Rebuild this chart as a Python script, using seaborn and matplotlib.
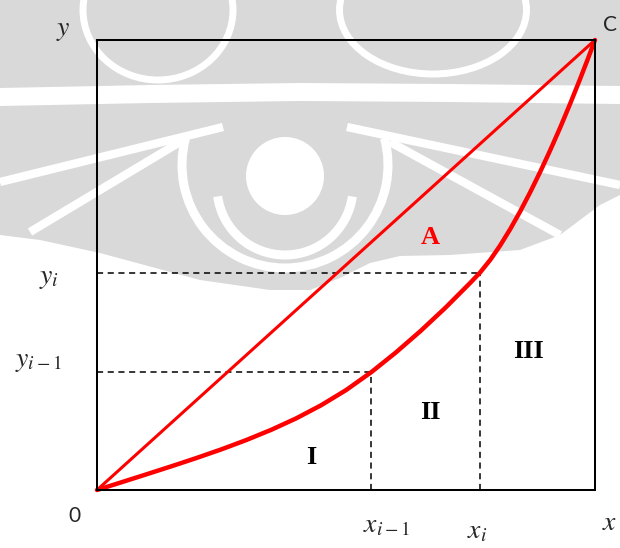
import numpy as np
import pandas as pd
import matplotlib
matplotlib.use("Agg")
import matplotlib.pyplot as plt
from matplotlib.patches import Polygon, Circle, Arc, Ellipse
import seaborn as sns

# Lorenz-type curve (cumulative share x -> cumulative share y)
curve_x = [0.0, 0.05, 0.10, 0.15, 0.20, 0.25, 0.30, 0.35, 0.40, 0.45, 0.50,
           0.551, 0.60, 0.65, 0.70, 0.75, 0.769, 0.79, 0.81, 0.83, 0.85,
           0.87, 0.89, 0.91, 0.93, 0.95, 0.97, 0.985, 1.0]
curve_y = [0.0, 0.0175, 0.0351, 0.0529, 0.0712, 0.0904, 0.1111, 0.1338, 0.1592,
           0.1883, 0.2219, 0.262, 0.3055, 0.3536, 0.4054, 0.4609, 0.483, 0.5119,
           0.5442, 0.5802, 0.6196, 0.6620, 0.7071, 0.7549, 0.8052, 0.8581,
           0.9132, 0.9561, 1.0]

# line of equality
equal_x = [0.0, 1.0]
equal_y = [0.0, 1.0]

# marked points on the curve: (x_{i-1}, y_{i-1}) and (x_i, y_i)
mark_x = [0.551, 0.769]
mark_y = [0.262, 0.483]
mark_xlabels = [r"$x_{i-1}$", r"$x_i$"]
mark_ylabels = [r"$y_{i-1}$", r"$y_i$"]

region_labels = ["I", "II", "III"]
area_label = "A"

sns.set_style("white")
plt.rcParams["mathtext.fontset"] = "stix"
plt.rcParams["font.family"] = ["Lato", "DejaVu Sans"]

fig = plt.figure(figsize=(6.2, 5.48), dpi=100)

# ---- faint watermark emblem behind the diagram (pixel coordinates) ----
bg = fig.add_axes([0, 0, 1, 1], zorder=0)
bg.set_xlim(0, 620)
bg.set_ylim(548, 0)
bg.axis("off")
gray = "#d9d9d9"
bg.add_patch(Polygon([(0, 0), (620, 0), (620, 195), (600, 205), (560, 235),
                      (520, 250), (450, 255), (400, 256), (370, 263), (340, 278),
                      (310, 290), (270, 290), (200, 280), (100, 253), (40, 240),
                      (0, 235)], closed=True, fc=gray, ec="none"))
# horizontal band
bg.add_patch(Polygon([(0, 88), (150, 85), (300, 83), (450, 84), (620, 86),
                      (620, 104), (450, 102), (300, 101), (150, 103), (0, 106)],
                     closed=True, fc="white", ec="none"))
# brow rings
bg.add_patch(Ellipse((158, 10), 150, 140, fc="none", ec="white", lw=5))
bg.add_patch(Ellipse((433, 10), 187, 128, fc="none", ec="white", lw=5))
# central disc and arcs
bg.add_patch(Circle((285, 176), 39, fc="white", ec="none"))
bg.add_patch(Arc((285, 187), 136, 136, theta1=8, theta2=172, ec="white", lw=6.5))
bg.add_patch(Arc((285, 165), 206, 206, theta1=-15, theta2=195, ec="white", lw=6.5))
# radiating stripes
for (x0, y0), (x1, y1) in [((223, 127), (0, 182)), ((180, 142), (30, 232)),
                           ((347, 127), (620, 185)), ((390, 142), (560, 235))]:
    bg.plot([x0, x1], [y0, y1], color="white", lw=6, solid_capstyle="butt")

# ---- main diagram ----
ax = fig.add_axes([97 / 620, 1 - 490 / 548, 498 / 620, 450 / 548], zorder=1)
ax.patch.set_alpha(0)

curve_df = pd.DataFrame({"x": curve_x, "y": curve_y})
equal_df = pd.DataFrame({"x": equal_x, "y": equal_y})

# dashed guides from the axes to the marked points
for mx, my in zip(mark_x, mark_y):
    ax.plot([0, mx], [my, my], color="black", lw=1.1, dashes=(4, 3), clip_on=False)
    ax.plot([mx, mx], [0, my], color="black", lw=1.1, dashes=(4, 3), clip_on=False)

sns.lineplot(data=equal_df, x="x", y="y", ax=ax, color="#ff0000", lw=2.2,
             sort=False, estimator=None, clip_on=False)
sns.lineplot(data=curve_df, x="x", y="y", ax=ax, color="#ff0000", lw=3.2,
             sort=False, estimator=None, clip_on=False)
for ln in ax.lines:
    ln.set_solid_joinstyle("round")

ax.set_xlim(0, 1)
ax.set_ylim(0, 1)
ax.set_xticks([])
ax.set_yticks([])
ax.set_xlabel("")
ax.set_ylabel("")
for sp in ax.spines.values():
    sp.set_visible(True)
    sp.set_color("black")
    sp.set_linewidth(1.45)

math_size = 20
ax.text(-0.068, 1.022, r"$y$", fontsize=math_size, ha="center", va="center")
ax.text(1.030, -0.071, r"$x$", fontsize=math_size, ha="center", va="center")
ax.text(1.031, 1.034, "C", fontsize=15, ha="center", va="center")
ax.text(-0.046, -0.057, "0", fontsize=15, ha="center", va="center")

ax.text(0.582, -0.077, mark_xlabels[0], fontsize=math_size, ha="center", va="center")
ax.text(0.763, -0.091, mark_xlabels[1], fontsize=math_size, ha="center", va="center")
ax.text(-0.118, 0.287, mark_ylabels[0], fontsize=math_size, ha="center", va="center")
ax.text(-0.096, 0.471, mark_ylabels[1], fontsize=math_size, ha="center", va="center")

serif = ["Liberation Serif", "DejaVu Serif"]
for lbl, (tx, ty) in zip(region_labels, [(0.431, 0.073), (0.670, 0.173), (0.867, 0.307)]):
    ax.text(tx, ty, lbl, fontsize=19, fontweight="bold", family=serif,
            ha="center", va="center", color="black")
ax.text(0.670, 0.562, area_label, fontsize=19, fontweight="bold", family=serif,
        ha="center", va="center", color="#ff0000")

fig.savefig("out.png", dpi=100)
